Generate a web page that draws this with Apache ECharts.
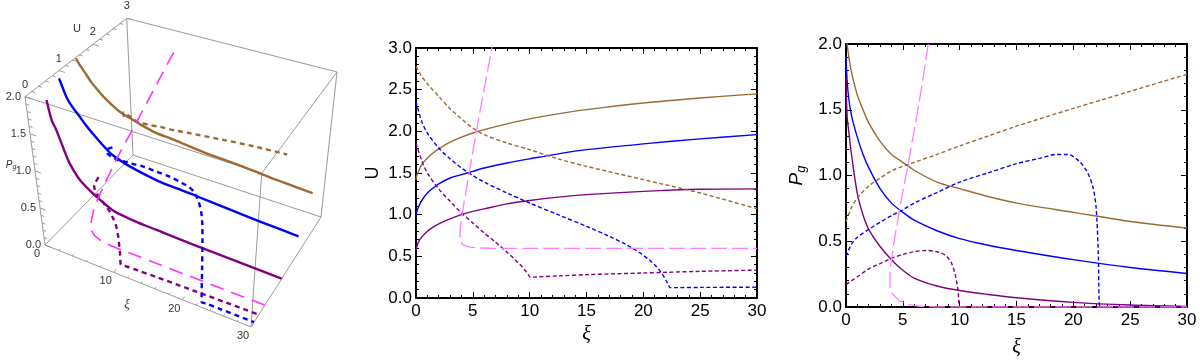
<!DOCTYPE html>
<html>
<head>
<meta charset="utf-8">
<title>U and Pg against xi</title>
<script src="https://cdn.jsdelivr.net/npm/echarts@6/dist/echarts.min.js"></script>
<style>
  html, body { margin: 0; padding: 0; background: #fff; }
  #main { width: 1200px; height: 363px; }
</style>
</head>
<body>
<div id="main"></div>
<script>
// ---- data ----
// solid curves share one xi grid
var xiSolid   = [0, 0.1, 0.25, 0.5, 1, 1.5, 2, 3, 4, 5, 6, 8, 10, 12.5, 15, 20, 25, 30];
var brownU    = [1.42, 1.48, 1.53, 1.6, 1.68, 1.74, 1.79, 1.87, 1.93, 1.98, 2.02, 2.09, 2.15, 2.21, 2.26, 2.34, 2.40, 2.45];
var brownPg   = [2.1, 2.0, 1.9, 1.78, 1.61, 1.5, 1.4, 1.26, 1.16, 1.1, 1.04, 0.95, 0.9, 0.84, 0.79, 0.72, 0.65, 0.6];
var blueU     = [0.98, 1.05, 1.1, 1.17, 1.26, 1.32, 1.37, 1.44, 1.48, 1.52, 1.56, 1.62, 1.67, 1.73, 1.78, 1.85, 1.91, 1.96];
var bluePg    = [1.9, 1.72, 1.58, 1.45, 1.29, 1.16, 1.06, 0.9, 0.79, 0.72, 0.66, 0.58, 0.52, 0.47, 0.43, 0.36, 0.3, 0.255];
var purpleU   = [0.57, 0.63, 0.68, 0.73, 0.8, 0.85, 0.89, 0.95, 1.0, 1.04, 1.07, 1.13, 1.17, 1.21, 1.24, 1.28, 1.305, 1.31];
var purplePg  = [1.75, 1.45, 1.33, 1.15, 0.86, 0.7, 0.59, 0.46, 0.36, 0.28, 0.22, 0.16, 0.125, 0.095, 0.07, 0.035, 0.015, 0.005];

// dashed curves
var xiBrownD    = [0, 0.5, 1, 2, 3, 4, 5, 6, 8, 10, 12.5, 15, 20, 25, 30];
var brownDashU  = [2.78, 2.66, 2.57, 2.42, 2.27, 2.15, 2.04, 1.96, 1.86, 1.78, 1.67, 1.58, 1.42, 1.26, 1.07];
var brownDashPg = [0.65, 0.76, 0.83, 0.92, 0.98, 1.035, 1.07, 1.1, 1.16, 1.225, 1.3, 1.375, 1.51, 1.64, 1.77];

var xiBlueD    = [0, 0.5, 1, 2, 3, 4, 5, 6, 8, 10, 12.5, 15, 17, 18.5, 19.5, 20.5, 21.2, 21.7, 22, 22.2, 22.35, 23, 25, 30];
var blueDashU  = [2.36, 2.12, 1.98, 1.8, 1.67, 1.56, 1.47, 1.39, 1.26, 1.14, 1.0, 0.86, 0.74, 0.64, 0.56, 0.46, 0.37, 0.28, 0.21, 0.16, 0.125, 0.125, 0.127, 0.13];
var blueDashPg = [0.385, 0.48, 0.53, 0.59, 0.645, 0.695, 0.74, 0.79, 0.87, 0.95, 1.02, 1.09, 1.13, 1.16, 1.16, 1.11, 1.03, 0.92, 0.76, 0.4, 0, 0, 0, 0];

var xiPurpleD    = [0, 0.5, 1, 2, 3, 4, 5, 6, 7, 8, 8.8, 9.3, 9.6, 9.85, 10.05, 10.5, 12.5, 15, 20, 25, 30];
var purpleDashU  = [1.86, 1.65, 1.5, 1.31, 1.16, 1.02, 0.9, 0.78, 0.67, 0.55, 0.45, 0.38, 0.33, 0.29, 0.25, 0.252, 0.265, 0.28, 0.3, 0.32, 0.335];
var purpleDashPg = [0.17, 0.2, 0.23, 0.29, 0.33, 0.37, 0.4, 0.42, 0.43, 0.42, 0.39, 0.33, 0.25, 0.13, 0, 0, 0, 0, 0, 0, 0];

// magenta long-dashed path (turns back at xi ~ 3.87)
var xiMag = [7.24, 6.67, 6.36, 5.48, 4.75, 4.16, 3.9, 3.87, 3.87, 3.95, 4.16, 4.75, 5.6, 6.5, 8, 30];
var magU  = [3.4, 3.0, 2.77, 2.13, 1.56, 1.09, 0.85, 0.78, 0.72, 0.67, 0.635, 0.61, 0.6, 0.597, 0.595, 0.595];
var magPg = [2.0, 1.68, 1.52, 1.09, 0.76, 0.46, 0.3, 0.22, 0.157, 0.12, 0.094, 0.043, 0.018, 0.005, 0, 0];

// tick labels of the 3-D box
var uTicks3d  = [0, 1, 2, 3];
var pgTicks3d = [0, 0.5, 1, 1.5, 2];
var xiTicks3d = [0, 10, 20, 30];

// ---- 3-D box projection (corner positions of the box on screen) ----
var box = {
  c000: [45, 245],  c001: [25, 96.7],  c010: [133, 155], c011: [126.7, 18.3],
  c100: [251, 327], c101: [261.7, 173.3], c110: [321, 217], c111: [337, 72]
};
function lerp(p, q, t) { return [p[0] + (q[0] - p[0]) * t, p[1] + (q[1] - p[1]) * t]; }
function proj(xi, u, pg) {
  var a = xi / 30, b = u / 3, c = pg / 2;
  var lo = lerp(lerp(box.c000, box.c100, a), lerp(box.c010, box.c110, a), b);
  var hi = lerp(lerp(box.c001, box.c101, a), lerp(box.c011, box.c111, a), b);
  return lerp(lo, hi, c);
}

var curves = [
  { xi: xiSolid,   u: brownU,      pg: brownPg,      color: '#9c6a33', kind: 'solid' },
  { xi: xiSolid,   u: blueU,       pg: bluePg,       color: '#0000ff', kind: 'solid' },
  { xi: xiSolid,   u: purpleU,     pg: purplePg,     color: '#800080', kind: 'solid' },
  { xi: xiBrownD,  u: brownDashU,  pg: brownDashPg,  color: '#9c6a33', kind: 'dash' },
  { xi: xiBlueD,   u: blueDashU,   pg: blueDashPg,   color: '#0000ff', kind: 'dash' },
  { xi: xiPurpleD, u: purpleDashU, pg: purpleDashPg, color: '#800080', kind: 'dash' },
  { xi: xiMag,     u: magU,        pg: magPg,        color: '#ff00ff', kind: 'long' }
];

function style2d(c) {
  if (c.kind === 'solid') return { color: c.color, width: 1.4, type: 'solid' };
  if (c.kind === 'dash') return { color: c.color, width: 1.4, type: [4, 2.5] };
  return { color: '#ff80ff', width: 1.3, type: [16, 5] };
}
function style3d(c) {
  if (c.kind === 'solid') return { color: c.color, width: 2.4, type: 'solid' };
  if (c.kind === 'dash') return { color: c.color, width: 2.4, type: [5, 4] };
  return { color: '#ff33ff', width: 1.6, type: [14, 8] };
}

var series = [];

// box edges and ticks
var edges = [
  ['c000', 'c001'], ['c001', 'c011'], ['c011', 'c010'], ['c010', 'c000'],
  ['c100', 'c101'], ['c101', 'c111'], ['c111', 'c110'], ['c110', 'c100'],
  ['c000', 'c100'], ['c001', 'c101'], ['c010', 'c110'], ['c011', 'c111']
];
var segs = edges.map(function (e) { return { coords: [box[e[0]], box[e[1]]] }; });
var i, v, big;
for (i = 0; i <= 15; i++) { // U axis along top-left edge, minor every 0.2
  v = i * 0.2; big = i % 5 === 0;
  segs.push({ coords: [proj(0, v, 2), proj(big ? 0.8 : 0.45, v, 2)] });
}
for (i = 0; i <= 20; i++) { // Pg axis on left edge, minor every 0.1
  v = i * 0.1; big = i % 5 === 0;
  segs.push({ coords: [proj(0, 0, v), proj(big ? 0.8 : 0.45, 0, v)] });
}
for (i = 0; i <= 15; i++) { // xi axis on bottom front edge, minor every 2
  v = i * 2; big = i % 5 === 0;
  segs.push({ coords: [proj(v, 0, 0), proj(v, big ? 0.09 : 0.05, 0)] });
}
series.push({
  type: 'lines', coordinateSystem: 'cartesian2d', xAxisIndex: 0, yAxisIndex: 0,
  silent: true, lineStyle: { color: '#9a9a9a', width: 1, opacity: 1 }, data: segs
});

// 3-D curves
curves.forEach(function (c) {
  var pts = [];
  for (var k = 0; k < c.xi.length; k++) {
    if (c.u[k] <= 3 && c.pg[k] <= 2) pts.push(proj(c.xi[k], c.u[k], c.pg[k]));
  }
  series.push({
    type: 'line', xAxisIndex: 0, yAxisIndex: 0, data: pts, symbol: 'none',
    smooth: c.kind === 'long' ? false : 0.3, clip: false, lineStyle: style3d(c)
  });
});

// 3-D labels
var labels3d = [];
uTicks3d.forEach(function (t) {
  var p = proj(0, t, 2);
  labels3d.push({ p: [p[0], p[1] - 12], text: String(t), align: 'center' });
});
pgTicks3d.forEach(function (t) {
  var p = proj(0, 0, t);
  labels3d.push({ p: [p[0] - 4, p[1]], text: t.toFixed(1), align: 'right' });
});
xiTicks3d.forEach(function (t) {
  var p = proj(t, 0, 0);
  labels3d.push({ p: [p[0] - 8, p[1] + 9], text: String(t), align: 'center' });
});
var pu = proj(0, 1.5, 2), pp = proj(0, 0, 1), px = proj(15, 0, 0);
labels3d.push({ p: [pu[0] + 1, pu[1] - 29], text: 'U', align: 'center' });
labels3d.push({ p: [pp[0] - 24, pp[1] - 6], text: '{p|P}{g|g}', align: 'center' });
labels3d.push({ p: [px[0] - 21, px[1] + 19], text: '{x|ξ}', align: 'center' });

series.push({
  type: 'custom', xAxisIndex: 0, yAxisIndex: 0, silent: true,
  data: labels3d.map(function (l) { return l.p; }),
  renderItem: function (params, api) {
    var l = labels3d[params.dataIndex];
    var pt = api.coord([api.value(0), api.value(1)]);
    return {
      type: 'text', x: pt[0], y: pt[1],
      style: {
        text: l.text, fill: '#333', font: '11px "Liberation Sans"',
        align: l.align, verticalAlign: 'middle',
        rich: {
          p: { fontSize: 10, fontStyle: 'italic', fill: '#333', fontFamily: 'Liberation Sans' },
          g: { fontSize: 7, fontStyle: 'italic', fill: '#333', fontFamily: 'Liberation Sans', padding: [5, 0, 0, 0] },
          x: { fontSize: 13, fontStyle: 'italic', fill: '#333', fontFamily: 'Liberation Serif' }
        }
      }
    };
  }
});

// 2-D panels: U (grid 1) and Pg (grid 2)
curves.forEach(function (c) {
  var du = [], dp = [];
  for (var k = 0; k < c.xi.length; k++) {
    du.push([c.xi[k], c.u[k]]);
    dp.push([c.xi[k], c.pg[k]]);
  }
  var sm = c.kind === 'long' ? false : 0.3;
  series.push({ type: 'line', xAxisIndex: 1, yAxisIndex: 1, data: du, symbol: 'none',
    smooth: sm, lineStyle: style2d(c), z: 3 });
  series.push({ type: 'line', xAxisIndex: 3, yAxisIndex: 3, data: dp, symbol: 'none',
    smooth: sm, lineStyle: style2d(c), z: 3 });
});

function frameX(grid, pos, labels) {
  return {
    type: 'value', gridIndex: grid, position: pos, min: 0, max: 30, interval: 5,
    axisLine: { show: true, onZero: false, lineStyle: { color: '#000', width: 2 } },
    axisTick: { show: true, inside: true, length: 6, lineStyle: { color: '#000', width: 1 } },
    minorTick: { show: true, splitNumber: 5, length: 3, lineStyle: { color: '#000', width: 1 } },
    splitLine: { show: false },
    axisLabel: { show: labels, color: '#000', fontSize: 17, fontFamily: 'Liberation Sans', margin: 5 }
  };
}
function frameY(grid, pos, max, labels) {
  return {
    type: 'value', gridIndex: grid, position: pos, min: 0, max: max, interval: 0.5,
    axisLine: { show: true, onZero: false, lineStyle: { color: '#000', width: 2 } },
    axisTick: { show: true, inside: true, length: 6, lineStyle: { color: '#000', width: 1 } },
    minorTick: { show: true, splitNumber: 5, length: 3, lineStyle: { color: '#000', width: 1 } },
    splitLine: { show: false },
    axisLabel: { show: labels, color: '#000', fontSize: 17, fontFamily: 'Liberation Sans', margin: 4,
      formatter: function (v) { return v.toFixed(1); } }
  };
}

var xiName = { name: 'ξ', nameLocation: 'middle',
  nameTextStyle: { fontSize: 20, fontStyle: 'italic', fontFamily: 'Liberation Serif', color: '#000' } };

var xU = frameX(1, 'bottom', true); Object.assign(xU, xiName, { nameGap: 26 });
var xP = frameX(2, 'bottom', true); Object.assign(xP, xiName, { nameGap: 31 });
var yU = frameY(1, 'left', 3, true);
Object.assign(yU, { name: 'U', nameLocation: 'middle', nameRotate: 90, nameGap: 34,
  nameTextStyle: { fontSize: 18, fontFamily: 'Liberation Sans', color: '#000' } });
var yP = frameY(2, 'left', 2, true);
Object.assign(yP, { name: '{p|P}{g|g}', nameLocation: 'middle', nameRotate: 90, nameGap: 38,
  nameTextStyle: { color: '#000', rich: {
    p: { fontSize: 19, fontStyle: 'italic', fontFamily: 'Liberation Sans', color: '#000' },
    g: { fontSize: 13, fontStyle: 'italic', fontFamily: 'Liberation Sans', color: '#000', padding: [9, 0, 0, 0] }
  } } });

var option = {
  animation: false,
  backgroundColor: '#fff',
  grid: [
    { left: 0, top: 0, width: 1200, height: 363 },
    { left: 416, top: 48, width: 341, height: 250 },
    { left: 846, top: 44, width: 341, height: 263 }
  ],
  xAxis: [
    { type: 'value', gridIndex: 0, min: 0, max: 1200, show: false },
    xU, frameX(1, 'top', false),
    xP, frameX(2, 'top', false)
  ],
  yAxis: [
    { type: 'value', gridIndex: 0, min: 0, max: 363, inverse: true, show: false },
    yU, frameY(1, 'right', 3, false),
    yP, frameY(2, 'right', 2, false)
  ],
  series: series
};

var chart = echarts.init(document.getElementById('main'));
chart.setOption(option);
</script>
</body>
</html>
